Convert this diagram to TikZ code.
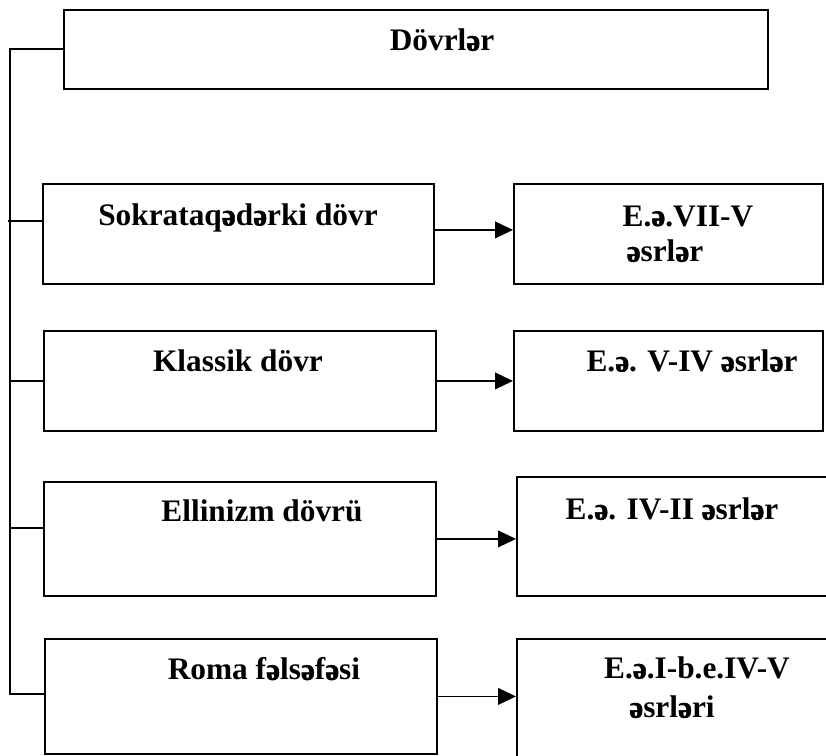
\documentclass[tikz,border=0pt]{standalone}
\usepackage{fontspec}
\setmainfont{Liberation Serif}
\usetikzlibrary{arrows.meta,calc}
\newcommand{\sw}{{\addfontfeatures{FakeBold=1.6}ə}}
\begin{document}
\begin{tikzpicture}[x=0.75pt,y=-0.75pt,
  box/.style={draw,line width=1.4pt,anchor=north west,inner sep=0pt},
  txt/.style={font=\bfseries\fontsize{23.5}{28}\selectfont,inner sep=0pt,anchor=center},
  conn/.style={line width=1.4pt},
  arr/.style={line width=1.4pt,-{Triangle[length=13.5pt,width=12.5pt]}}]
\useasboundingbox (0,0) rectangle (826,756);
% boxes
\node[box,minimum width=528pt,minimum height=59.25pt] (top) at (63,9) {};
\node[box,minimum width=293.25pt,minimum height=75pt] (s1) at (42,183) {};
\node[box,minimum width=231.75pt,minimum height=75pt] (r1) at (513,183) {};
\node[box,minimum width=294pt,minimum height=75pt] (s2) at (43,330) {};
\node[box,minimum width=231.75pt,minimum height=75pt] (r2) at (513,330) {};
\node[box,minimum width=294pt,minimum height=85.5pt] (s3) at (43,481) {};
\node[box,minimum width=240pt,minimum height=89.25pt] (r3) at (516,476) {};
\node[box,minimum width=294pt,minimum height=86.25pt] (s4) at (44,638) {};
\node[box,minimum width=240pt,minimum height=93pt] (r4) at (516,638) {};
% texts
\node[txt] (t0) at (442,40) {Dövrl\sw r};
\node[txt] (t1) at (238,218) {Sokrataq\sw d\sw rki dövr};
\node[txt] (u1a) at (688,216) {E.\sw.VII-V};
\node[txt] (u1b) at (665,251) {\sw srl\sw r};
\node[txt] (t2) at (238,361) {Klassik dövr};
\node[txt] (u2) at (692,361) {E.\sw. V-IV \sw srl\sw r};
\node[txt] (t3) at (262,511) {Ellinizm dövrü};
\node[txt] (u3) at (672,509) {E.\sw. IV-II \sw srl\sw r};
\node[txt] (t4) at (264,669) {Roma f\sw ls\sw f\sw si};
\node[txt] (u4a) at (697,668) {E.\sw.I-b.e.IV-V};
\node[txt] (u4b) at (672,707) {\sw srl\sw ri};
% trunk
\coordinate (trtop) at (10,49);
\coordinate (trbot) at (10,694);
\draw[conn] (top.west) -- (top.west -| trtop) -- (trbot) -- (trbot -| s4.west);
\draw[conn] ([yshift=9.75pt]s1.west) -- ++(-25.5pt,0);
\draw[conn] (s2.west) -- (s2.west -| trtop);
\draw[conn] ([yshift=8.25pt]s3.west) -- ([yshift=8.25pt]s3.west -| trtop);
% arrows
\draw[arr] ([yshift=3pt]s1.east) -- ([yshift=3pt]s1.east -| r1.west);
\draw[arr] (s2.east) -- (s2.east -| r2.west);
\draw[arr] (s3.east) -- (s3.east -| r3.west);
\draw[arr] (s4.east) -- (s4.east -| r4.west);
\end{tikzpicture}
\end{document}
